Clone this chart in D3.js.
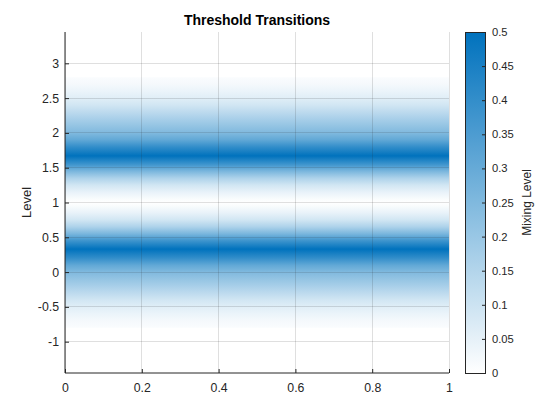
<!DOCTYPE html>
<html><head><meta charset="utf-8">
<script src="https://cdn.jsdelivr.net/npm/d3@7"></script>
<style>body{margin:0;background:#fff;} svg{display:block;font-family:"Liberation Sans",Arial,sans-serif;}</style>
</head><body>
<div id="chart"></div>
<script>
// Data
const xRange = [0, 1];
const levels = [-0.8,-0.7,-0.6,-0.5,-0.4,-0.3,-0.2,-0.1,0.0,0.1,0.2,0.33,0.45,0.55,0.65,0.75,0.85,0.95,1.0,
                1.05,1.15,1.25,1.35,1.45,1.55,1.67,1.8,1.9,2.0,2.1,2.2,2.3,2.4,2.5,2.6,2.7,2.8];
const mixing = [0.01,0.02,0.04,0.06,0.09,0.13,0.17,0.21,0.25,0.31,0.40,0.50,0.38,0.26,0.16,0.09,0.045,0.012,0.0,
                0.012,0.045,0.09,0.16,0.26,0.38,0.50,0.40,0.31,0.25,0.21,0.17,0.13,0.09,0.06,0.04,0.02,0.01];
const xTicks = [0,0.2,0.4,0.6,0.8,1];
const yTicks = [-1,-0.5,0,0.5,1,1.5,2,2.5,3];
const cTicks = [0,0.05,0.1,0.15,0.2,0.25,0.3,0.35,0.4,0.45,0.5];
const titleText = "Threshold Transitions";
const yLabel = "Level";
const cLabel = "Mixing Level";

const W = 560, H = 420;
const m = {l:65, r:449, t:32, b:373};
const svg = d3.select("#chart").append("svg").attr("width",W).attr("height",H);
const x = d3.scaleLinear().domain([0,1]).range([m.l,m.r]);
const y = d3.scaleLinear().domain([-1.45,3.45]).range([m.b,m.t]);
const color = d3.scaleLinear().domain([0,0.5]).range(["#ffffff","#0072bd"]).interpolate(d3.interpolateRgb);
const ink = "#262626";
const FONT = "Liberation Sans, Arial, sans-serif";

const defs = svg.append("defs");
const y0 = levels[0], y1 = levels[levels.length-1];
const grad = defs.append("linearGradient").attr("id","field")
  .attr("gradientUnits","userSpaceOnUse")
  .attr("x1",0).attr("x2",0).attr("y1",y(y0)).attr("y2",y(y1));
levels.forEach((lv,i)=>{
  grad.append("stop").attr("offset",(lv-y0)/(y1-y0)).attr("stop-color",color(mixing[i]));
});
svg.append("rect").attr("x",x(xRange[0])).attr("width",x(xRange[1])-x(xRange[0]))
  .attr("y",y(y1)).attr("height",y(y0)-y(y1)).attr("fill","url(#field)");

// grid
const g = svg.append("g");
xTicks.forEach(t=>g.append("line").attr("x1",x(t)).attr("x2",x(t)).attr("y1",m.t).attr("y2",m.b)
  .attr("stroke",ink).attr("stroke-opacity",0.15).attr("stroke-width",1).attr("shape-rendering","crispEdges"));
yTicks.forEach(t=>g.append("line").attr("x1",m.l).attr("x2",m.r).attr("y1",y(t)).attr("y2",y(t))
  .attr("stroke",ink).attr("stroke-opacity",0.15).attr("stroke-width",1).attr("shape-rendering","crispEdges"));

// axes
const fmt = d=> String(d);
const xAxis = d3.axisBottom(x).tickValues(xTicks).tickFormat(fmt).tickSizeInner(-4).tickSizeOuter(0).tickPadding(10);
const yAxis = d3.axisLeft(y).tickValues(yTicks).tickFormat(fmt).tickSizeInner(-4).tickSizeOuter(0).tickPadding(6);
const gx = svg.append("g").attr("transform",`translate(0,${m.b})`).call(xAxis);
const gy = svg.append("g").attr("transform",`translate(${m.l},0)`).call(yAxis);
[gx,gy].forEach(a=>{
  a.select(".domain").attr("stroke",ink);
  a.selectAll(".tick line").attr("stroke",ink);
  a.selectAll("text").attr("fill",ink).attr("font-size",12.3).attr("font-family",FONT);
});
gx.select(".domain").attr("d",`M${m.l},0H${m.r}`);
gy.select(".domain").attr("d",`M0,${m.b}V${m.t}`);

// title and labels
svg.append("text").attr("x",(m.l+m.r)/2).attr("y",25).attr("text-anchor","middle").attr("font-family",FONT)
  .attr("font-size",14).attr("font-weight","bold").attr("fill","#000").text(titleText);
svg.append("text").attr("transform",`translate(30.5,${(m.t+m.b)/2}) rotate(-90)`).attr("text-anchor","middle")
  .attr("font-family",FONT).attr("font-size",13).attr("fill",ink).text(yLabel);

// colorbar
const cb = {l:465, r:485};
const cy = d3.scaleLinear().domain([0,0.5]).range([m.b,m.t]);
const cgrad = defs.append("linearGradient").attr("id","cbar").attr("gradientUnits","userSpaceOnUse")
  .attr("x1",0).attr("x2",0).attr("y1",cy(0)).attr("y2",cy(0.5));
cTicks.forEach(t=>cgrad.append("stop").attr("offset",t/0.5).attr("stop-color",color(t)));
svg.append("rect").attr("x",cb.l).attr("width",cb.r-cb.l).attr("y",cy(0.5)).attr("height",cy(0)-cy(0.5))
  .attr("fill","url(#cbar)").attr("stroke",ink).attr("stroke-width",1).attr("shape-rendering","crispEdges");
const cAxis = d3.axisRight(cy).tickValues(cTicks).tickFormat(fmt).tickSizeInner(-3).tickSizeOuter(0).tickPadding(7);
const gc = svg.append("g").attr("transform",`translate(${cb.r},0)`).call(cAxis);
gc.select(".domain").remove();
gc.selectAll(".tick line").attr("stroke",ink);
gc.selectAll("text").attr("fill",ink).attr("font-size",11.2).attr("font-family",FONT);
svg.append("text").attr("transform",`translate(531,${(m.t+m.b)/2}) rotate(-90)`).attr("text-anchor","middle")
  .attr("font-family",FONT).attr("font-size",12).attr("fill",ink).text(cLabel);
</script>
</body></html>
